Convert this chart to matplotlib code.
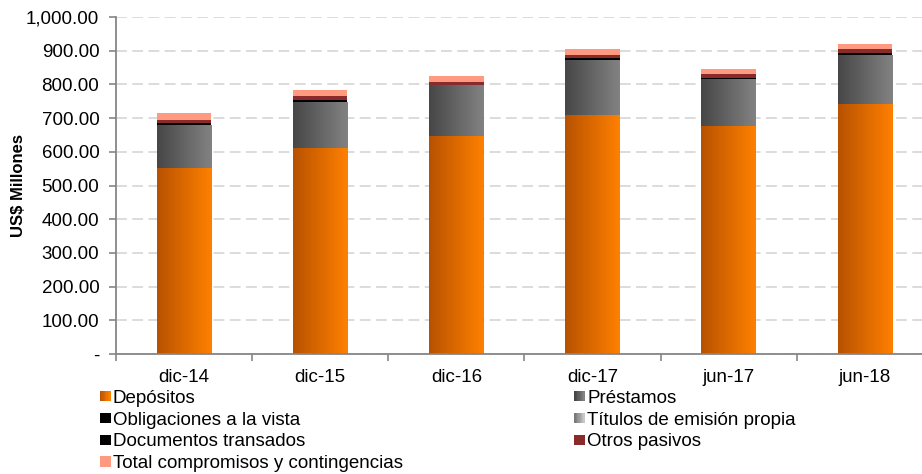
import numpy as np
import matplotlib
matplotlib.use("Agg")
import matplotlib.pyplot as plt
from matplotlib.patches import Rectangle
from matplotlib.colors import LinearSegmentedColormap
from matplotlib.legend_handler import HandlerBase

plt.rcParams['font.family'] = ['Liberation Sans', 'DejaVu Sans']

# Pasivos por periodo (US$ millones)
categories = ['dic-14', 'dic-15', 'dic-16', 'dic-17', 'jun-17', 'jun-18']
depositos = [553, 612, 648, 709, 677, 742]
prestamos = [127, 136, 149, 163, 140, 146]
obligaciones_vista = [5, 6, 1, 6, 2, 4]
titulos_emision = [0, 0, 0, 0, 0, 0]
documentos_transados = [0, 0, 0, 0, 0, 0]
otros_pasivos = [9, 12, 9, 9, 12, 13]
total_compromisos = [21, 17, 18, 18, 15, 15]

series = [
    ('Depósitos', depositos, ('#b85200', '#ff8000')),
    ('Préstamos', prestamos, ('#474747', '#828282')),
    ('Obligaciones a la vista', obligaciones_vista, ('#000000', '#000000')),
    ('Títulos de emisión propia', titulos_emision, ('#7a7a7a', '#c8c8c8')),
    ('Documentos transados', documentos_transados, ('#000000', '#000000')),
    ('Otros pasivos', otros_pasivos, ('#8b2a2a', '#8b2a2a')),
    ('Total compromisos y contingencias', total_compromisos, ('#ff9a80', '#ff9a80')),
]


class GradientHandler(HandlerBase):
    """Legend key drawn as a horizontal gradient square."""
    def __init__(self, colors):
        super().__init__()
        self.colors = colors

    def create_artists(self, legend, orig_handle, xdescent, ydescent,
                       width, height, fontsize, trans):
        cmap = LinearSegmentedColormap.from_list('g', self.colors)
        n = 8
        side = height * 0.8
        x0 = xdescent + width - side
        arts = []
        for i in range(n):
            r = Rectangle((x0 + i * side / n, -ydescent + (height - side) / 2),
                          side / n + 0.3, side, facecolor=cmap(i / (n - 1)),
                          edgecolor='none', transform=trans)
            arts.append(r)
        return arts


fig = plt.figure(figsize=(9.22, 4.74), dpi=100)
ax = fig.add_axes([0.1258, 0.253, 0.886, 0.711])

x = np.arange(len(categories))
width = 0.40
bottom = np.zeros(len(categories))
handles = []
handler_map = {}
ymin, ymax = 0, 1000

for label, values, colors in series:
    vals = np.array(values, dtype=float)
    bars = ax.bar(x, vals, width, bottom=bottom, color=colors[1],
                  edgecolor='none', zorder=2, label=label)
    if colors[0] != colors[1]:
        cmap = LinearSegmentedColormap.from_list(label, colors)
        grad = np.linspace(0, 1, 64).reshape(1, -1)
        for b in bars:
            if b.get_height() <= 0:
                continue
            bx, by = b.get_x(), b.get_y()
            im = ax.imshow(grad, cmap=cmap, aspect='auto', zorder=2.5,
                           extent=[bx, bx + b.get_width(), by, by + b.get_height()],
                           interpolation='bilinear')
            im.set_clip_path(b)
    bottom += vals
    h = Rectangle((0, 0), 1, 1)
    handles.append(h)
    handler_map[h] = GradientHandler(colors)

ax.set_xlim(-0.5, len(categories) - 0.5)
ax.set_ylim(ymin, ymax)

ax.set_yticks(np.arange(0, 1001, 100))
ax.set_yticklabels(['-'] + [f'{v:,.2f}' for v in range(100, 1001, 100)])
ax.yaxis.grid(True, linestyle=(0, (6, 3)), color='#d9d9d9', linewidth=1.3, zorder=0)
ax.set_axisbelow(True)

ax.set_xticks(x)
ax.set_xticklabels(categories)
ax.set_xticks(np.arange(-0.5, len(categories), 1), minor=True)
ax.tick_params(axis='x', which='major', length=0, pad=11, labelsize=13.5)
ax.tick_params(axis='x', which='minor', length=5, color='#868686', width=1.2)
ax.tick_params(axis='y', length=5, color='#868686', width=1.2, labelsize=13.5, pad=7)

for side in ('top', 'right'):
    ax.spines[side].set_visible(False)
for side in ('left', 'bottom'):
    ax.spines[side].set_color('#868686')
    ax.spines[side].set_linewidth(1.3)

ax.set_ylabel('US$ Millones', fontsize=12, fontweight='bold', labelpad=0)

labels = [s[0] for s in series]
order = [0, 2, 4, 6, 1, 3, 5]
fig.legend([handles[i] for i in order], [labels[i] for i in order],
           handler_map=handler_map, ncol=2, loc='upper left',
           bbox_to_anchor=(0.105, 0.178), frameon=False, fontsize=13.5,
           handlelength=0.72, handletextpad=0.12, labelspacing=0.25,
           columnspacing=9.0, borderpad=0, borderaxespad=0)

fig.savefig('out.png', dpi=100)
